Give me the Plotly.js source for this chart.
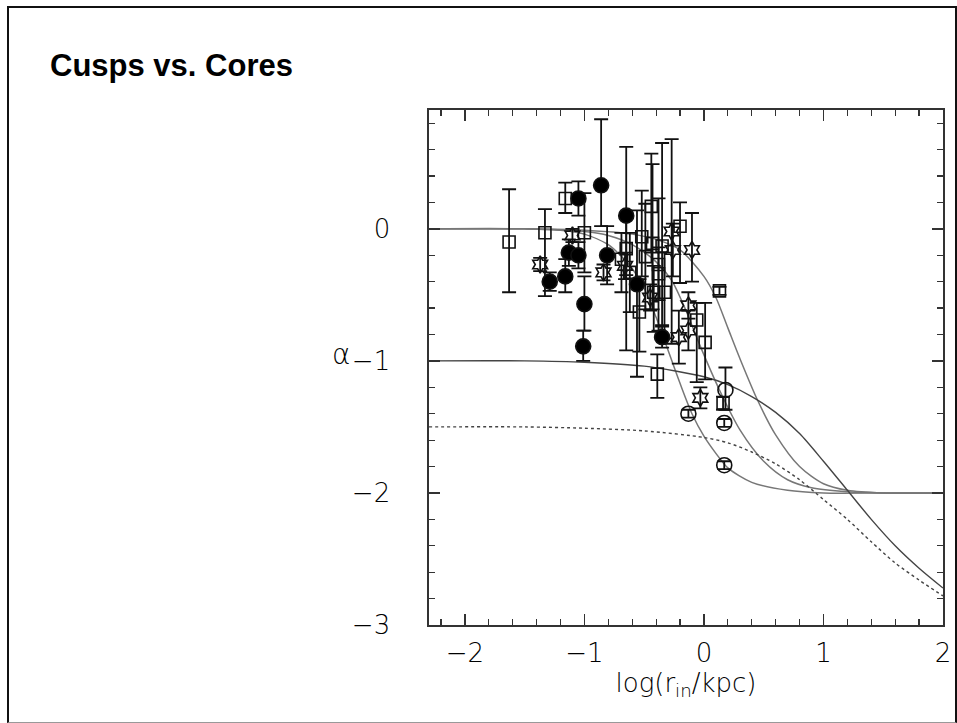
<!DOCTYPE html>
<html>
<head>
<meta charset="utf-8">
<script src="https://cdn.plot.ly/plotly-3.0.1.min.js"></script>
<style>
  html, body { margin: 0; padding: 0; background: #fff; }
  #wrap { position: relative; width: 957px; height: 723px; }
  #chart { position: absolute; left: 0; top: 0; width: 957px; height: 723px; }
  #frame { position: absolute; left: 7px; top: 6px; width: 946px; height: 714px;
           border-left: 2px solid #111; border-top: 2px solid #111; border-right: 2px solid #111;
           border-bottom: 1px solid #999; pointer-events: none; }
</style>
</head>
<body>
<div id="wrap"><div id="chart"></div><div id="frame"></div></div>
<script>
// ---- data points ----
const sqX  = [-1.63, -1.33, -1.16, -1.00, -0.69, -0.65, -0.62, -0.54, -0.52, -0.49, -0.44, -0.43, -0.38, -0.38, -0.42, -0.33, -0.35, -0.39, -0.20, 0.13, -0.06, 0.01, 0.16];
const sqY  = [-0.10, -0.03, 0.23, -0.03, -0.23, -0.15, -0.33, -0.63, -0.06, -0.21, 0.17, -0.11, -0.27, -0.34, -0.48, -0.48, -0.13, -1.10, 0.02, -0.47, -0.69, -0.86, -1.32];
const sqUp = [0.40, 0.18, 0.12, 0.30, 0.20, 0.25, 0.30, 0.25, 0.35, 0.40, 0.40, 0.60, 0.50, 0.20, 0.20, 0.30, 0.78, 0.15, 0.18, 0.03, 0.13, 0.30, 0.05];
const sqDn = [0.38, 0.48, 0.11, 0.30, 0.25, 0.20, 0.30, 0.30, 0.30, 0.40, 0.35, 0.50, 0.50, 0.20, 0.30, 0.35, 0.60, 0.18, 0.43, 0.03, 0.47, 0.28, 0.05];

const fcX  = [-1.29, -1.16, -1.13, -1.05, -1.05, -1.00, -1.01, -0.86, -0.81, -0.65, -0.56, -0.35];
const fcY  = [-0.40, -0.36, -0.18, -0.20, 0.23, -0.57, -0.89, 0.33, -0.20, 0.10, -0.42, -0.82];
const fcUp = [0.07, 0.13, 0.10, 0.10, 0.13, 0.21, 0.12, 0.50, 0.22, 0.52, 0.56, 0.08];
const fcDn = [0.07, 0.12, 0.10, 0.10, 0.13, 0.20, 0.11, 0.31, 0.22, 1.02, 0.70, 0.08];

const stX  = [-1.37, -1.10, -0.84, -0.66, -0.45, -0.27, -0.26, -0.10, -0.13, -0.13, -0.21, -0.03];
const stY  = [-0.27, -0.05, -0.33, -0.28, -0.52, -0.02, -0.16, -0.16, -0.58, -0.77, -0.82, -1.28];
const stUp = [0.05, 0.05, 0.06, 0.10, 0.10, 0.70, 0.20, 0.28, 0.10, 0.15, 0.20, 0.08];
const stDn = [0.05, 0.05, 0.06, 0.10, 0.10, 0.85, 0.20, 0.24, 0.10, 0.15, 0.20, 0.08];

const ocX  = [-0.13, 0.18, 0.17, 0.17];
const ocY  = [-1.40, -1.22, -1.47, -1.79];
const ocUp = [0.03, 0.17, 0.03, 0.03];
const ocDn = [0.03, 0.15, 0.03, 0.03];

// ---- model curves ----
const cAx = [-2.3, -1.5, -1.2, -1.0, -0.8, -0.7, -0.6, -0.5, -0.4, -0.3, -0.2, -0.1, 0.0, 0.1, 0.2, 0.4, 0.7, 1.0, 1.5, 2.0];
const cAy = [0, 0, -0.01, -0.04, -0.12, -0.2, -0.3, -0.45, -0.67, -0.92, -1.17, -1.4, -1.57, -1.7, -1.81, -1.92, -1.98, -2.0, -2.0, -2.0];

const cBx = [-2.3, -1.5, -1.0, -0.8, -0.6, -0.4, -0.27, -0.15, -0.03, 0.13, 0.3, 0.5, 0.7, 0.9, 1.2, 1.5, 2.0];
const cBy = [0, 0, -0.02, -0.05, -0.12, -0.25, -0.39, -0.62, -0.89, -1.22, -1.52, -1.76, -1.9, -1.96, -1.99, -2.0, -2.0];

const cCx = [-2.3, -1.5, -1.0, -0.6, -0.4, -0.2, 0.0, 0.1, 0.2, 0.3, 0.45, 0.6, 0.8, 1.0, 1.2, 1.5, 2.0];
const cCy = [0, 0, -0.01, -0.04, -0.08, -0.16, -0.36, -0.52, -0.75, -0.98, -1.3, -1.56, -1.8, -1.93, -1.98, -2.0, -2.0];

const cDx = [-2.3, -1.5, -1.0, -0.5, 0.0, 0.2, 0.4, 0.6, 0.8, 1.0, 1.2, 1.4, 1.6, 1.8, 2.0];
const cDy = [-1.0, -1.0, -1.01, -1.04, -1.12, -1.18, -1.27, -1.39, -1.55, -1.76, -1.98, -2.2, -2.4, -2.57, -2.72];

const cEx = [-2.3, -1.5, -1.0, -0.5, 0.0, 0.2, 0.4, 0.6, 0.8, 1.0, 1.2, 1.4, 1.6, 1.8, 2.0];
const cEy = [-1.5, -1.5, -1.51, -1.53, -1.58, -1.62, -1.69, -1.78, -1.9, -2.05, -2.2, -2.37, -2.53, -2.66, -2.78];

const xTicks = [-2, -1, 0, 1, 2];
const yTicks = [-3, -2, -1, 0];

function curve(x, y, color, dash, width) {
  return { x: x, y: y, type: 'scatter', mode: 'lines', hoverinfo: 'skip',
    line: { color: color, width: width, dash: dash, shape: 'spline', smoothing: 0.8 } };
}
function pts(x, y, up, dn, symbol, size, fill) {
  return { x: x, y: y, type: 'scatter', mode: 'markers',
    marker: { symbol: symbol, size: size, color: fill,
              line: { color: '#111', width: 1.6 } },
    error_y: { type: 'data', symmetric: false, array: up, arrayminus: dn,
               color: '#111', thickness: 1.8, width: 7 } };
}

const data = [
  curve(cAx, cAy, '#777', 'solid', 1.5),
  curve(cBx, cBy, '#777', 'solid', 1.5),
  curve(cCx, cCy, '#777', 'solid', 1.5),
  curve(cDx, cDy, '#444', 'solid', 1.4),
  curve(cEx, cEy, '#444', 'dot', 1.4),
  pts(sqX, sqY, sqUp, sqDn, 'square-open', 12, '#111'),
  pts(stX, stY, stUp, stDn, 'hexagram-open', 13, '#111'),
  pts(ocX, ocY, ocUp, ocDn, 'circle-open', 15, '#111'),
  pts(fcX, fcY, fcUp, fcDn, 'circle', 15, '#000')
];

const axisFont = { family: 'DejaVu Sans, Liberation Sans, sans-serif', size: 26, color: '#000', weight: 300 };

const layout = {
  width: 957, height: 723,
  paper_bgcolor: '#fff', plot_bgcolor: '#fff',
  showlegend: false,
  margin: { l: 429, r: 14, t: 110, b: 98, pad: 0 },
  title: { text: '<b>Cusps vs. Cores</b>', xref: 'container', yref: 'container',
           x: 50 / 957, xanchor: 'left', y: 1 - 65 / 723, yanchor: 'middle',
           font: { family: 'Liberation Sans, Arial, sans-serif', size: 31, color: '#000' } },
  xaxis: {
    range: [-2.3, 2.0], tickvals: xTicks, ticktext: xTicks.map(v => v < 0 ? '\u2212' + Math.abs(v) : String(v)),
    ticks: 'inside', ticklen: 11, tickwidth: 1.3, tickcolor: '#333',
    minor: { dtick: 0.2, tick0: 0, ticks: 'inside', ticklen: 6, tickwidth: 1.2, tickcolor: '#333', showgrid: false },
    showline: true, linecolor: '#333', linewidth: 1.6, mirror: 'allticks',
    showgrid: false, zeroline: false, tickfont: axisFont, ticklabelstandoff: 4,
    title: { text: 'log(r<sub>in</sub>/kpc)', font: axisFont, standoff: 0 }
  },
  yaxis: {
    range: [-3.0, 0.9], tickvals: yTicks, ticktext: yTicks.map(v => v < 0 ? '\u2212' + Math.abs(v) : String(v)),
    ticks: 'inside', ticklen: 11, tickwidth: 1.3, tickcolor: '#333',
    minor: { dtick: 0.2, tick0: 0, ticks: 'inside', ticklen: 6, tickwidth: 1.2, tickcolor: '#333', showgrid: false },
    showline: true, linecolor: '#333', linewidth: 1.6, mirror: 'allticks',
    showgrid: false, zeroline: false, tickfont: axisFont, ticklabelstandoff: 32
  },
  annotations: [
    { text: 'α', xref: 'paper', yref: 'y', x: -0.172, y: -0.95, xanchor: 'center', yanchor: 'middle',
      showarrow: false, font: { family: 'DejaVu Sans, Liberation Sans, sans-serif', size: 28, color: '#000', weight: 300 } }
  ]
};

Plotly.newPlot('chart', data, layout, { staticPlot: true, displayModeBar: false });
</script>
</body>
</html>
